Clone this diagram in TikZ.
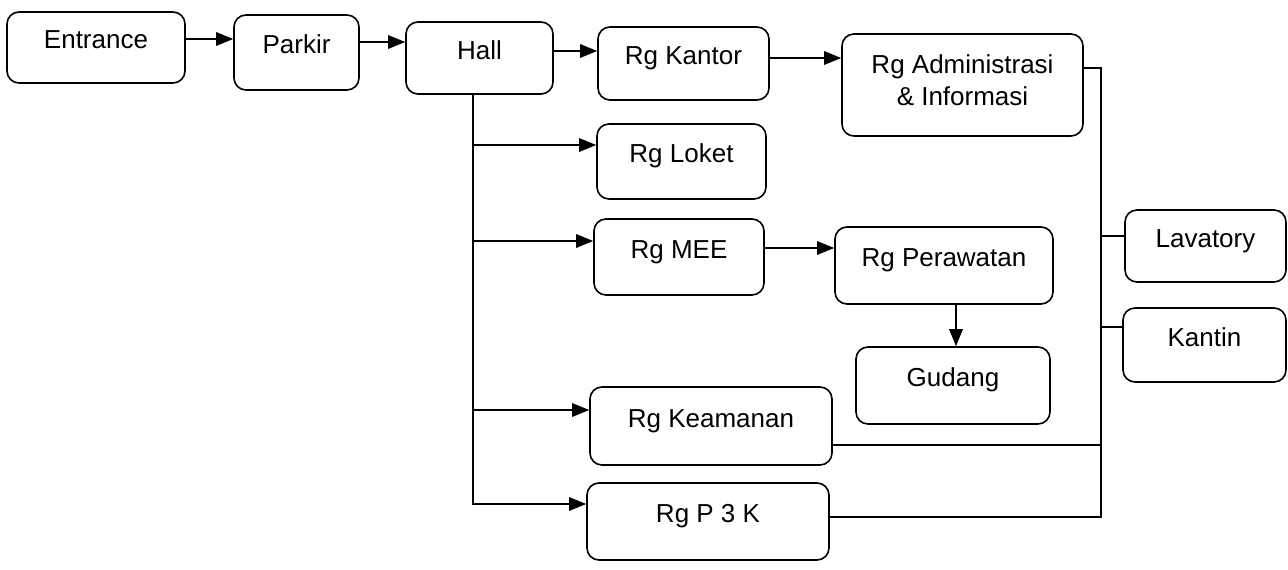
\documentclass[tikz,border=0pt]{standalone}
\usepackage{fontspec}
\setmainfont{Liberation Sans}
\usetikzlibrary{arrows.meta}
\begin{document}
\begin{tikzpicture}[x=1pt,y=-1pt,
  box/.style={draw=black, line width=1.6pt, rounded corners=12pt, inner sep=0pt,
    font=\fontsize{26pt}{32pt}\selectfont, text height=20pt, text depth=18pt},
  txttwo/.style={inner sep=0pt, align=center, font=\fontsize{26pt}{32pt}\selectfont},
  conn/.style={line width=1.4pt},
  arr/.style={conn, -{Triangle[length=17pt,width=13.5pt]}},
]
\useasboundingbox (0,0) rectangle (1288,570);
\fill[white] (0,0) rectangle (1288,570);

% boxes
\node[box, minimum width=178pt, minimum height=71pt] (ent) at (96,47.5) {Entrance};
\node[box, minimum width=125pt, minimum height=75pt] (park) at (296.5,52.5) {Parkir};
\node[box, minimum width=147pt, minimum height=72pt] (hall) at (479.5,58) {Hall};
\node[box, minimum width=171pt, minimum height=73pt] (kant) at (683.5,63.5) {Rg Kantor};
\node[box, minimum width=241pt, minimum height=102pt] (adm) at (962.5,85) {};
\node[txttwo] (admtxt) at ([yshift=5pt]adm.center) {Rg Administrasi\\\& Informasi};
\node[box, minimum width=169pt, minimum height=75pt] (lok) at (681.5,161.5) {Rg Loket};
\node[box, minimum width=170pt, minimum height=76pt] (mee) at (679,257) {Rg MEE};
\node[box, minimum width=218pt, minimum height=77pt] (pera) at (944,265.5) {Rg Perawatan};
\node[box, minimum width=194pt, minimum height=77pt] (gud) at (953,385.5) {Gudang};
\node[box, minimum width=242pt, minimum height=78pt] (keam) at (711,426) {Rg Keamanan};
\node[box, minimum width=242pt, minimum height=77pt] (p3k) at (708,521.5) {Rg P 3 K};
\node[box, minimum width=161pt, minimum height=72pt] (lav) at (1205.5,246) {Lavatory};
\node[box, minimum width=163pt, minimum height=74pt] (kan) at (1204.5,345) {Kantin};

% top row
\coordinate (a1) at ([yshift=8.5pt]ent.east);
\draw[arr] (a1) -- (a1 -| park.west);
\coordinate (a2) at ([yshift=10.5pt]park.east);
\draw[arr] (a2) -- (a2 -| hall.west);
\coordinate (a3) at ([yshift=7pt]hall.east);
\draw[arr] (a3) -- (a3 -| kant.west);
\coordinate (a4) at ([yshift=5.5pt]kant.east);
\draw[arr] (a4) -- (a4 -| adm.west);

% hall trunk
\coordinate (h0) at ([xshift=-6.5pt]hall.south);
\coordinate (bL) at ([yshift=16.5pt]lok.west);
\coordinate (bM) at ([yshift=16pt]mee.west);
\coordinate (bK) at ([yshift=16pt]keam.west);
\coordinate (bP) at ([yshift=17.5pt]p3k.west);
\draw[arr] (h0) |- (bP);
\draw[arr] (h0 |- bL) -- (bL);
\draw[arr] (h0 |- bM) -- (bM);
\draw[arr] (h0 |- bK) -- (bK);

% MEE -> Perawatan -> Gudang
\coordinate (m1) at ([yshift=9pt]mee.east);
\draw[arr] (m1) -- (m1 -| pera.west);
\coordinate (g1) at ([xshift=12pt]pera.south);
\draw[arr] (g1) -- (g1 |- gud.north);

% right trunk
\coordinate (rt) at (1101,0);
\coordinate (r0) at ([yshift=17pt]adm.east);
\coordinate (rk) at ([yshift=-19pt]keam.east);
\coordinate (rp) at ([yshift=4.5pt]p3k.east);
\draw[conn] (r0) -| (rt |- rp) -- (rp);
\draw[conn] (rk) -- (rt |- rk);
\coordinate (rl) at ([yshift=10pt]lav.west);
\coordinate (rc) at ([yshift=18pt]kan.west);
\draw[conn] (rt |- rl) -- (rl);
\draw[conn] (rt |- rc) -- (rc);
\end{tikzpicture}
\end{document}
